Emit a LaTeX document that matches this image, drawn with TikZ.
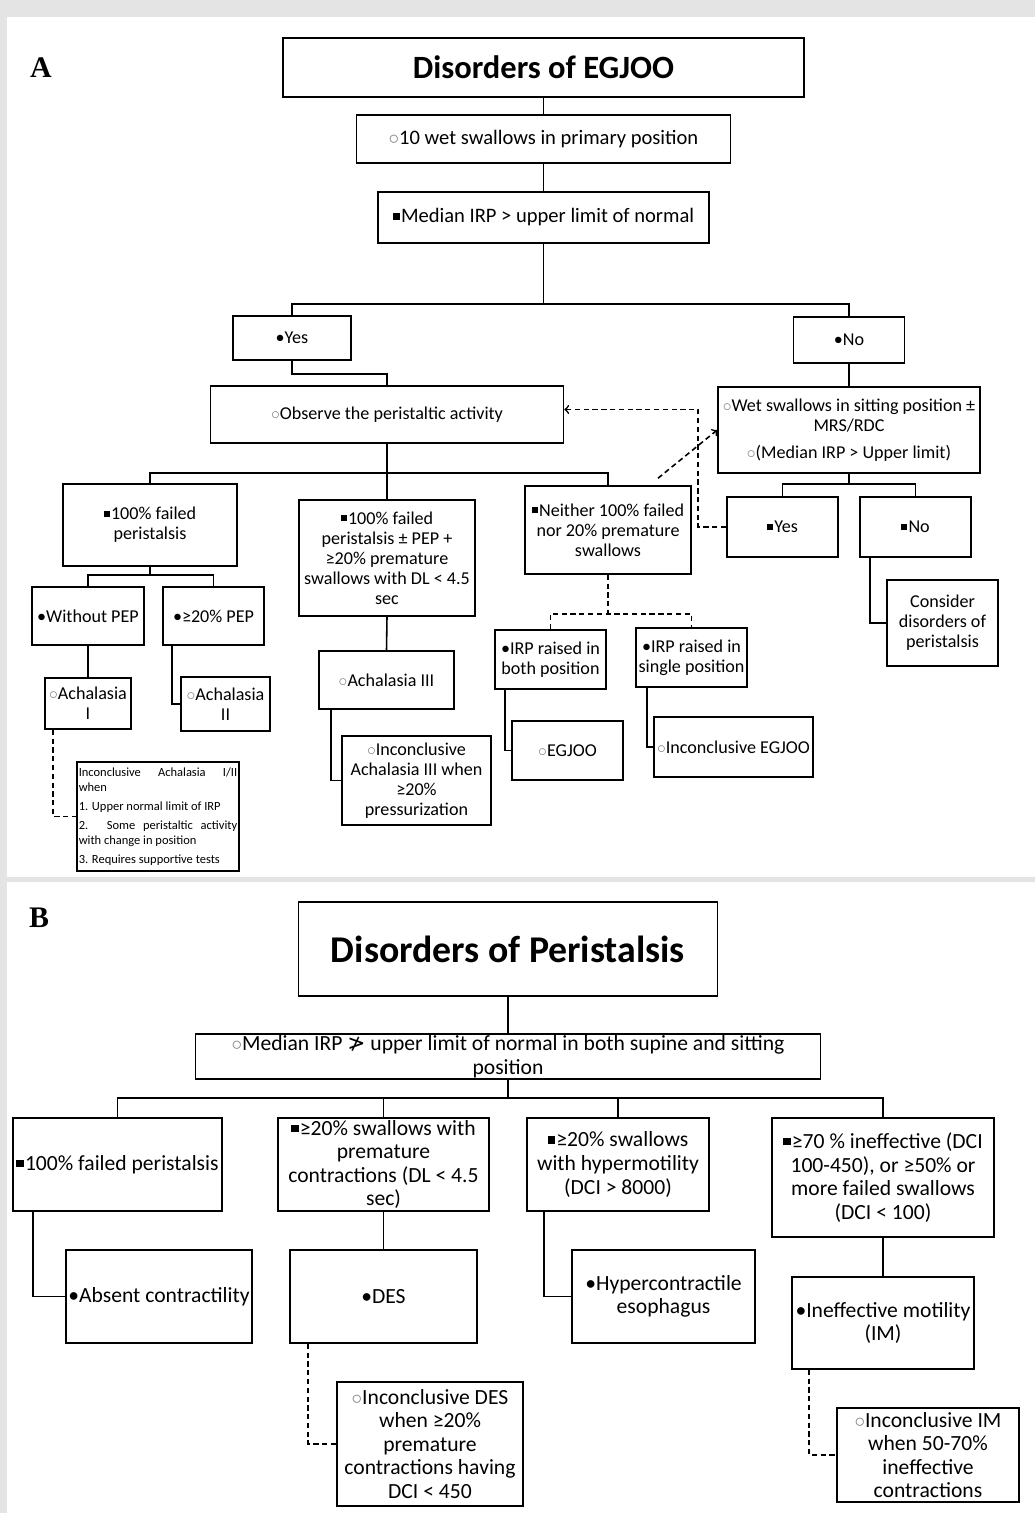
\documentclass[tikz,border=0pt]{standalone}
\usepackage{fontspec}
\setmainfont{Carlito}
\newfontfamily\symfont{DejaVu Sans}
\newfontfamily\labfont{Liberation Serif}
\usepackage{tikz}
\usetikzlibrary{arrows}

\definecolor{bggray}{RGB}{228,228,228}
% bullets used in the boxes
\newcommand{\wb}{{\color{gray}$\circ$}}
\newcommand{\sqb}{\rule[0.15em]{0.34em}{0.34em}\hspace{0.06em}}
% font sizes
\newcommand{\fAtitle}{\fontsize{18.5}{22}\selectfont\bfseries}
\newcommand{\fAtop}{\fontsize{11.7}{13}\selectfont}
\newcommand{\fA}{\fontsize{10.3}{11.4}\selectfont}
\newcommand{\fAtiny}{\fontsize{7.1}{8.4}\selectfont}
\newcommand{\fBtitle}{\fontsize{21.5}{25}\selectfont\bfseries}
\newcommand{\fB}{\fontsize{12.3}{13.4}\selectfont}

\tikzset{
  box/.style={draw, line width=0.9pt, align=center, inner sep=1pt},
  bx/.style 2 args={minimum width=#1cm, minimum height=#2cm},
  conn/.style={line width=0.9pt},
  dconn/.style={line width=0.9pt, dash pattern=on 3pt off 2pt},
  lab/.style={font=\labfont\bfseries\fontsize{17}{20}\selectfont},
}

\begin{document}
\begin{tikzpicture}[x=0.02cm, y=-0.02cm]
\useasboundingbox (0,0) rectangle (1035,1513);
\fill[bggray] (0,0) rectangle (1035,1513);
\fill[white] (7,17) rectangle (1035,877);
\fill[white] (7,882) rectangle (1035,1513);

%%% panel A
\node[lab] (labA) at (41,68) {A};
\node[box, font=\fAtitle, bx={10.42}{1.18}] (titleA) at (543.5,67.5) {Disorders of EGJOO};
\node[box, font=\fAtop, bx={7.48}{0.96}] (wet10) at (543.5,139) {\wb10 wet swallows in primary position};
\node[box, font=\fAtop, bx={6.62}{1.02}] (medA) at (543.5,217.5) {\sqb Median IRP > upper limit of normal};
\node[box, font=\fA, bx={2.36}{0.88}] (yesA) at (292,338) {•Yes};
\node[box, font=\fA, bx={2.22}{0.92}] (noA) at (849,340) {•No};
\node[box, font=\fA, bx={7.06}{1.14}] (obs) at (387,414.5) {\wb Observe the peristaltic activity};
\node[box, font=\fA, bx={5.24}{1.72}] (sit) at (849,430) {\wb Wet swallows in sitting position ±\\ MRS/RDC\\[4pt] \wb(Median IRP > Upper limit)};
\node[box, font=\fA, bx={3.48}{1.64}] (fail100) at (150,525) {\sqb 100\% failed\\ peristalsis};
\node[box, font=\fA, bx={3.52}{2.32}] (failpep) at (387,558) {\sqb 100\% failed\\ peristalsis ± PEP +\\ ≥20\% premature\\ swallows with DL < 4.5\\ sec};
\node[box, font=\fA, bx={3.32}{1.76}] (neither) at (608,530) {\sqb Neither 100\% failed\\ nor 20\% premature\\ swallows};
\node[box, font=\fA, bx={2.22}{1.2}] (yesB) at (782.5,527) {\sqb Yes};
\node[box, font=\fA, bx={2.22}{1.2}] (noB) at (915.5,527) {\sqb No};
\node[box, font=\fA, bx={2.22}{1.72}] (consider) at (942.5,623) {Consider\\ disorders of\\ peristalsis};
\node[box, font=\fA, bx={2.24}{1.16}] (woPEP) at (88,616) {•Without PEP};
\node[box, font=\fA, bx={2.02}{1.16}] (pep20) at (213.5,616) {•≥20\% PEP};
\node[box, font=\fA, bx={1.72}{1.02}] (achI) at (88,703.5) {\wb Achalasia\\ I};
\node[box, font=\fA, bx={1.78}{1.08}] (achII) at (225.5,704) {\wb Achalasia\\ II};
\node[box, font=\fAtiny, bx={3.24}{2.18}, text width=3.17cm, align=justify] (inconAch) at (158,816.5)
  {\setlength{\parskip}{2.5pt}Inconclusive Achalasia I/II\linebreak when\par
   1. Upper normal limit of IRP\par
   2. Some peristaltic activity\linebreak with change in position\par
   3. Requires supportive tests};
\node[box, font=\fA, bx={2.7}{1.16}] (achIII) at (386.5,680) {\wb Achalasia III};
\node[box, font=\fA, bx={2.98}{1.78}] (inconIII) at (416.5,780.5) {\wb Inconclusive\\ Achalasia III when\\ ≥20\%\\ pressurization};
\node[box, font=\fA, bx={2.22}{1.18}] (irpBoth) at (550.5,659.5) {•IRP raised in\\ both position};
\node[box, font=\fA, bx={2.22}{1.18}] (irpSingle) at (691.5,657.5) {•IRP raised in\\ single position};
\node[box, font=\fA, bx={2.22}{1.18}] (egjoo) at (567.5,750.5) {\wb EGJOO};
\node[box, font=\fA, bx={3.18}{1.2}] (inconEG) at (733.5,747) {\wb Inconclusive EGJOO};

\coordinate (jA1) at (543.5,304);
\coordinate (jA2) at (387,473);
\coordinate (jA3) at (849,484);
\coordinate (jA4) at (150,575);
\coordinate (jA5) at (608,614);

\draw[conn] (titleA.south) -- (wet10.north);
\draw[conn] (wet10.south) -- (medA.north);
\draw[conn] (medA.south) -- (jA1);
\draw[conn] (yesA.north) |- (jA1) -| (noA.north);
\draw[conn] (yesA.south) -- ++(0,13) -| (obs.north);
\draw[conn] (obs.south) -- (jA2);
\draw[conn] (fail100.north) |- (jA2) -| (neither.north);
\draw[conn] (jA2) -- (failpep.north);
\draw[conn] (noA.south) -- (sit.north);
\draw[conn] (sit.south) -- (jA3);
\draw[conn] (yesB.north) |- (jA3) -| (noB.north);
\draw[conn] ([xshift=0.22cm]noB.south west) |- (consider.west);
\draw[conn] (fail100.south) -- (jA4);
\draw[conn] (woPEP.north) |- (jA4) -| (pep20.north);
\draw[conn] (woPEP.south) -- (achI.north);
\draw[conn] ([xshift=0.2cm]pep20.south west) |- (achII.west);
\draw[dconn] ([xshift=0.18cm]achI.south west) |- (inconAch.west);
\draw[conn] (failpep.south) -- (achIII.north);
\draw[conn] ([xshift=0.26cm]achIII.south west) |- (inconIII.west);
\draw[dconn] (neither.south) -- (jA5);
\draw[dconn] (irpBoth.north) |- (jA5) -| (irpSingle.north);
\draw[conn] ([xshift=0.22cm]irpBoth.south west) |- (egjoo.west);
\draw[conn] ([xshift=0.24cm]irpSingle.south west) |- (inconEG.west);
% dashed feedback arrows
\draw[dconn,->] (yesB.west) -- ++(-28,0) |- ([yshift=0.1cm]obs.east);
\draw[dconn,->] ([xshift=1cm,yshift=0.14cm]neither.north) -- (sit.west);

%%% panel B
\node[lab] (labB) at (39,918) {B};
\node[box, font=\fBtitle, bx={8.38}{1.88}] (titleB) at (508,949) {Disorders of Peristalsis};
\node[box, font=\fB, bx={12.5}{0.9}] (medB) at (508,1056.5) {\wb Median IRP {\symfont ≯} upper limit of normal in both supine and sitting\\ position};
\node[box, font=\fB, bx={4.18}{1.86}] (b1) at (117.5,1164.5) {\sqb 100\% failed peristalsis};
\node[box, font=\fB, bx={4.22}{1.86}] (b2) at (383.5,1164.5) {\sqb≥20\% swallows with\\ premature\\ contractions (DL < 4.5\\ sec)};
\node[box, font=\fB, bx={3.64}{1.86}] (b3) at (618,1164.5) {\sqb≥20\% swallows\\ with hypermotility\\ (DCI > 8000)};
\node[box, font=\fB, bx={4.44}{2.38}] (b4) at (883,1177.5) {\sqb≥70 \% ineffective (DCI\\ 100-450), or ≥50\% or\\ more failed swallows\\ (DCI < 100)};
\node[box, font=\fB, bx={3.72}{1.86}] (absent) at (159,1296.5) {•Absent contractility};
\node[box, font=\fB, bx={3.74}{1.86}] (des) at (383.5,1296.5) {•DES};
\node[box, font=\fB, bx={3.72}{2.48}] (inconDES) at (430,1444) {\wb Inconclusive DES\\ when ≥20\%\\ premature\\ contractions having\\ DCI < 450};
\node[box, font=\fB, bx={3.66}{1.86}] (hypercon) at (663.5,1296.5) {•Hypercontractile\\ esophagus};
\node[box, font=\fB, bx={3.64}{1.84}] (im) at (883,1323) {•Ineffective motility\\ (IM)};
\node[box, font=\fB, bx={3.64}{1.88}] (inconIM) at (928,1455) {\wb Inconclusive IM\\ when 50-70\%\\ ineffective\\ contractions};

\coordinate (jB1) at (508,1098);

\draw[conn] (titleB.south) -- (medB.north);
\draw[conn] (medB.south) -- (jB1);
\draw[conn] (b1.north) |- (jB1) -| (b4.north);
\draw[conn] (b2.north) -- (b2.north |- jB1);
\draw[conn] (b3.north) -- (b3.north |- jB1);
\draw[conn] ([xshift=0.42cm]b1.south west) |- (absent.west);
\draw[conn] (b2.south) -- (des.north);
\draw[dconn] ([xshift=0.38cm]des.south west) |- (inconDES.west);
\draw[conn] ([xshift=0.36cm]b3.south west) |- (hypercon.west);
\draw[conn] (b4.south) -- (im.north);
\draw[dconn] ([xshift=0.36cm]im.south west) |- (inconIM.west);
\end{tikzpicture}
\end{document}
